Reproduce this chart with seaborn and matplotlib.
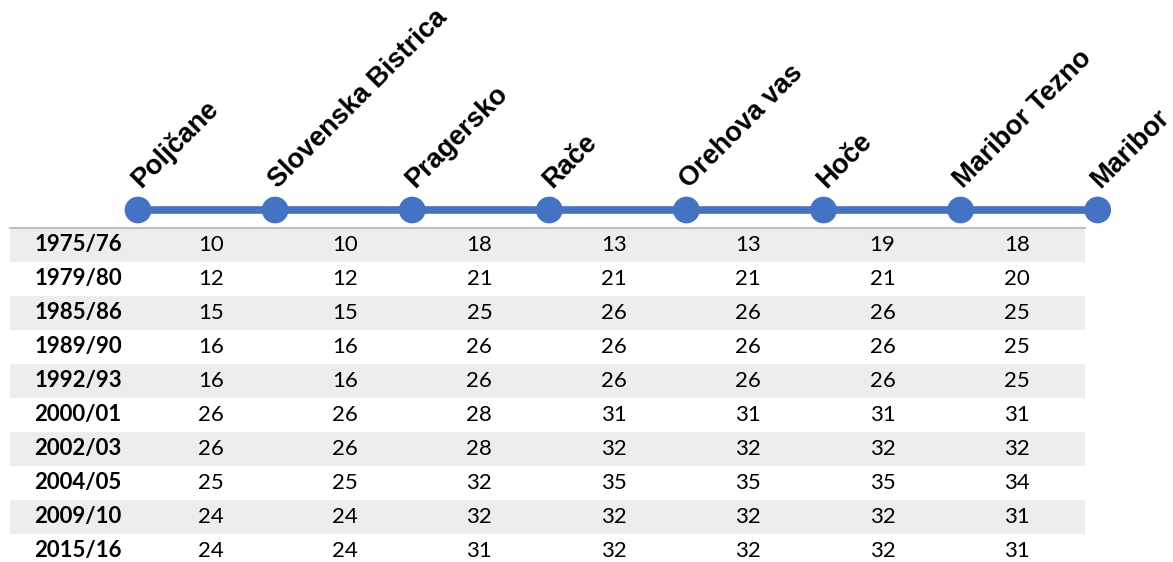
import numpy as np
import pandas as pd
import seaborn as sns
import matplotlib.pyplot as plt

# postaje in obdobja
stations = ['Poljčane', 'Slovenska Bistrica', 'Pragersko', 'Rače',
            'Orehova vas', 'Hoče', 'Maribor Tezno', 'Maribor']
years = ['1975/76', '1979/80', '1985/86', '1989/90', '1992/93',
         '2000/01', '2002/03', '2004/05', '2009/10', '2015/16']

# vrednosti po odsekih (vrstica = leto, stolpec = odsek med postajama)
values = [
    [10, 10, 18, 13, 13, 19, 18],
    [12, 12, 21, 21, 21, 21, 20],
    [15, 15, 25, 26, 26, 26, 25],
    [16, 16, 26, 26, 26, 26, 25],
    [16, 16, 26, 26, 26, 26, 25],
    [26, 26, 28, 31, 31, 31, 31],
    [26, 26, 28, 32, 32, 32, 32],
    [25, 25, 32, 35, 35, 35, 34],
    [24, 24, 32, 32, 32, 32, 31],
    [24, 24, 31, 32, 32, 32, 31],
]

blue = '#4472C4'
sns.set_theme(style='white')

fig = plt.figure(figsize=(11.73, 5.62), dpi=100)
ax = fig.add_axes([0, 0, 1, 1])

# px -> data: station 0 at 138px, step 137.1px; row 0 at 245px, step 34px
x0, dx = 138, 137.1
y0, dy = 245, 34.0
ax.set_xlim(-x0 / dx, (1173 - x0) / dx)
ax.set_ylim((562 - y0) / dy, -y0 / dy)
ax.axis('off')

line_y = (210 - y0) / dy
df = pd.DataFrame({'x': np.arange(len(stations)), 'y': line_y, 'name': stations})
sns.lineplot(data=df, x='x', y='y', color=blue, linewidth=5.5, ax=ax, legend=False)
sns.scatterplot(data=df, x='x', y='y', color=blue, s=370, edgecolor='none', ax=ax,
                legend=False, zorder=3)

for i, name in enumerate(stations):
    ax.text(i + 0.02, line_y - 0.62, name, rotation=45, rotation_mode='anchor',
            ha='left', va='baseline', fontsize=19.5, fontweight='bold',
            family='Liberation Sans', color='black')

# tabela
left, right = (10 - x0) / dx, (1085 - x0) / dx
for r, yr in enumerate(years):
    if r % 2 == 0:
        ax.fill_between([left, right], r - 0.5, r + 0.5, color='#ededed', lw=0, zorder=0)
    ax.text((78 - x0) / dx, r, yr, ha='center', va='center', fontsize=16,
            fontweight='bold', family='Lato', color='black')
    for c, v in enumerate(values[r]):
        ax.text(c * 0.98 + 0.53, r, str(v), ha='center', va='center', fontsize=16,
                family='Lato', color='black')
ax.plot([left, right], [-0.5, -0.5], color='#bfbfbf', lw=1.5, zorder=1)

fig.savefig('out.png', dpi=100)
